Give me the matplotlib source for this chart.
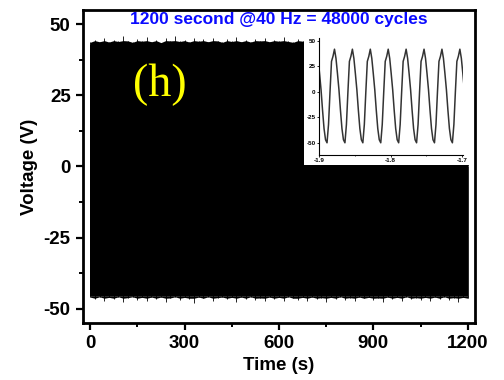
import numpy as np
import matplotlib
matplotlib.use("Agg")
import matplotlib.pyplot as plt
from matplotlib.patches import Rectangle

plt.rcParams['font.family'] = ['Liberation Sans', 'DejaVu Sans']
plt.rcParams['axes.unicode_minus'] = False

# envelope of the 40 Hz signal over the 1200 s run
upper_base = 42.8
lower_base = -45.4
upper_peaks = [43.6, 44.4, 43.8, 45.2, 43.7, 44.5, 43.9, 45.7, 44.1, 43.6, 44.8, 44.0,
               45.3, 43.8, 44.4, 43.5, 45.0, 44.1, 45.8, 43.9, 44.3, 43.7, 45.1, 44.0,
               44.7, 43.8, 45.2, 44.1, 43.6, 44.6, 43.9, 45.4, 43.8, 44.4, 43.7, 44.9,
               44.1, 45.1, 43.8, 44.5, 44.0, 45.3, 43.9, 43.6, 44.7, 44.0, 45.0, 43.8,
               44.4, 44.1, 45.5, 43.9, 44.6, 43.7, 45.0, 44.0, 45.2, 43.8, 44.3, 43.9,
               44.8, 44.1, 45.0, 43.7, 44.4, 44.0, 45.3, 43.8, 44.6, 43.9, 45.0, 44.1,
               45.1, 43.8, 44.3, 43.6, 44.8, 44.0, 45.0, 43.9, 44.1]
lower_peaks = [-45.9, -46.6, -45.8, -47.3, -46.0, -46.5, -45.8, -47.7, -46.1, -45.8, -46.9, -46.0,
               -47.1, -45.9, -46.5, -45.9, -47.6, -46.2, -45.8, -47.0, -46.0, -46.4, -47.9, -45.9,
               -46.3, -45.8, -47.2, -46.1, -45.9, -46.7, -46.0, -47.5, -45.9, -46.4, -45.8, -47.0,
               -46.2, -47.3, -45.9, -46.5, -46.0, -47.1, -45.8, -46.3, -46.9, -46.0, -47.4, -45.9,
               -46.5, -46.1, -47.7, -46.0, -46.4, -45.8, -46.8, -46.1, -47.2, -45.9, -46.3, -46.0,
               -47.0, -46.2, -47.5, -45.9, -46.4, -46.0, -47.1, -45.8, -46.6, -46.1, -46.9, -46.0,
               -47.3, -45.9, -46.4, -45.8, -47.0, -46.1, -47.6, -46.0, -46.3]

# one cycle of the waveform as seen in the zoomed inset (starting at a trough)
cycle_shape = [-50, -32, 0, 30, 35, 42, 33, 18, 2, -18, -36, -47]
freq = 40.0
inset_start = -1.9138
n_cycles = 10

x_ticks = [0, 300, 600, 900, 1200]
y_ticks = [-50, -25, 0, 25, 50]
inset_xticks = [-1.9, -1.8, -1.7]

fig = plt.figure(figsize=(5.04, 3.8), dpi=100)
ax = fig.add_axes([0.165, 0.150, 0.777, 0.824])

t_up = np.linspace(0, 1200, len(upper_peaks))
t_lo = np.linspace(0, 1200, len(lower_peaks))
ax.fill_between([0, 1200], lower_base, upper_base, color='k', lw=0)
ax.fill_between(t_up, upper_base, np.minimum(upper_peaks, 44.2), color='k', lw=0)
ax.fill_between(t_lo, np.maximum(lower_peaks, -46.3), lower_base, color='k', lw=0)
ax.vlines(t_up, 0, upper_peaks, color='k', lw=0.6)
ax.vlines(t_lo, lower_peaks, 0, color='k', lw=0.6)

ax.set_xlim(-22, 1222)
ax.set_ylim(-55, 55)
ax.set_xticks(x_ticks)
ax.set_yticks(y_ticks)
ax.set_xticks([150, 450, 750, 1050], minor=True)
ax.set_yticks([-37.5, -12.5, 12.5, 37.5], minor=True)
ax.tick_params(which='major', length=5, width=1.6, labelsize=13.5, pad=4)
ax.tick_params(which='minor', length=3, width=1.4)
for lab in ax.get_xticklabels() + ax.get_yticklabels():
    lab.set_fontweight('bold')
for s in ax.spines.values():
    s.set_linewidth(2)
ax.set_xlabel('Time (s)', fontsize=13.5, fontweight='bold', labelpad=3)
ax.set_ylabel('Voltage (V)', fontsize=13.5, fontweight='bold', labelpad=4)

ax.text(0.5, 0.968, '1200 second @40 Hz = 48000 cycles', transform=ax.transAxes,
        ha='center', va='center', color='#0a0aff', fontsize=12.5, fontweight='bold', zorder=5)
ax.text(0.197, 0.762, '(h)', transform=ax.transAxes, ha='center', va='center',
        color='#ffff00', fontsize=33, family=['Liberation Serif'], zorder=5)

# white panel behind the inset
ax.add_patch(Rectangle((304 / 504, 1 - 165 / 380), (474 - 304) / 504, (165 - 37) / 380,
                       transform=fig.transFigure, facecolor='white', edgecolor='none', zorder=4))

ins = fig.add_axes([319 / 504, 1 - 155 / 380, (463 - 319) / 504, (155 - 38) / 380])
ins.set_zorder(6)
period = 1.0 / freq
vals = np.tile(cycle_shape, n_cycles)
t_in = inset_start + np.arange(len(vals)) * period / len(cycle_shape)
ins.plot(t_in, vals, color='#333333', lw=1.1)
ins.set_xlim(-1.9, -1.699)
ins.set_ylim(-62, 53)
ins.set_xticks(inset_xticks)
ins.set_xticks([-1.85, -1.75], minor=True)
ins.set_yticks(y_ticks)
ins.spines['top'].set_visible(False)
ins.spines['right'].set_visible(False)
for s in ['left', 'bottom']:
    ins.spines[s].set_linewidth(0.8)
ins.tick_params(length=1.5, width=0.6, labelsize=4.5, pad=1)
ins.tick_params(which='minor', length=1, width=0.5)
for lab in ins.get_xticklabels() + ins.get_yticklabels():
    lab.set_fontweight('bold')

fig.savefig('out.png', dpi=100)
